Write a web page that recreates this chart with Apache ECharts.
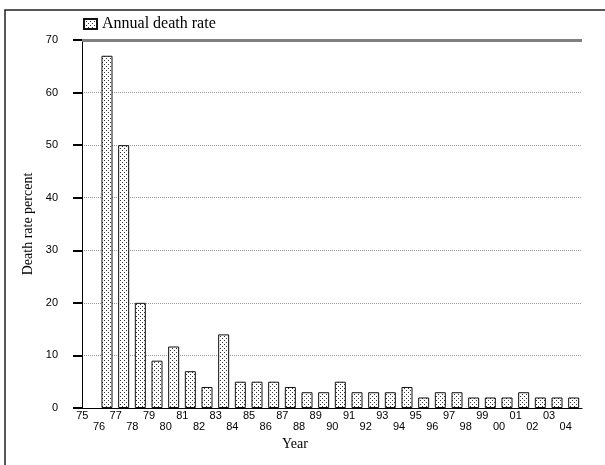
<!DOCTYPE html>
<html>
<head>
<meta charset="utf-8">
<script src="https://cdn.jsdelivr.net/npm/echarts@6/dist/echarts.min.js"></script>
<style>
  html, body { margin: 0; padding: 0; background: #fff; }
  #chart { width: 605px; height: 465px; }
</style>
</head>
<body>
<div id="chart"></div>
<script>
// years 1975 - 2004, labels as printed
var years = ['75', '76', '77', '78', '79', '80', '81', '82', '83', '84',
  '85', '86', '87', '88', '89', '90', '91', '92', '93', '94',
  '95', '96', '97', '98', '99', '00', '01', '02', '03', '04'];
var deathRate = [0, 67, 50, 20, 9, 11.7, 7, 4, 14, 5,
  5, 5, 4, 3, 3, 5, 3, 3, 3, 4,
  2, 3, 3, 2, 2, 2, 3, 2, 2, 2];
var yTicks = [0, 10, 20, 30, 40, 50, 60, 70];

// stipple fill like the old spreadsheet pattern
var pat = document.createElement('canvas');
pat.width = 4; pat.height = 4;
var pctx = pat.getContext('2d');
pctx.fillStyle = '#fff';
pctx.fillRect(0, 0, 4, 4);
pctx.fillStyle = '#333';
pctx.fillRect(0, 0, 1, 1);
pctx.fillRect(2, 2, 1, 1);

var serif = '"Liberation Serif", "Times New Roman", serif';
var sans = '"Liberation Sans", Arial, sans-serif';

var chart = echarts.init(document.getElementById('chart'));
chart.setOption({
  animation: false,
  backgroundColor: '#fff',
  graphic: [{
    type: 'rect',
    shape: {x: 5, y: 10, width: 620, height: 480},
    style: {fill: 'none', stroke: '#222', lineWidth: 1.5},
    silent: true
  }],
  legend: {
    left: 78, top: 11,
    icon: 'rect',
    itemWidth: 13, itemHeight: 10, itemGap: 10,
    textStyle: {fontFamily: serif, fontSize: 16, color: '#000'},
    data: ['Annual death rate']
  },
  grid: {left: 82, right: 23, top: 40, bottom: 57},
  xAxis: {
    type: 'category',
    data: years,
    name: 'Year',
    nameLocation: 'middle',
    nameGap: 26,
    nameTextStyle: {fontFamily: serif, fontSize: 14, color: '#000', padding: [0, 74, 0, 0]},
    axisLine: {lineStyle: {color: '#000', width: 1}},
    axisTick: {show: false},
    axisLabel: {
      interval: 0, margin: 2,
      fontFamily: sans, fontSize: 11, color: '#000', lineHeight: 11,
      padding: [0, 16, 0, 0],
      formatter: function (v, i) { return i % 2 ? '\n' + v : v; }
    }
  },
  yAxis: {
    type: 'value',
    min: yTicks[0], max: yTicks[yTicks.length - 1], interval: 10,
    name: 'Death rate percent',
    nameLocation: 'middle',
    nameGap: 47,
    nameTextStyle: {fontFamily: serif, fontSize: 14, color: '#000'},
    axisLine: {show: true, onZero: false, lineStyle: {color: '#000', width: 1}},
    axisTick: {show: true, inside: false, length: 9, lineStyle: {color: '#000', width: 2}},
    axisLabel: {margin: 24, fontFamily: sans, fontSize: 11, color: '#000'},
    splitLine: {lineStyle: {color: '#999', type: [1, 1], width: 1}}
  },
  series: [{
    name: 'Annual death rate',
    type: 'bar',
    // a zero year draws no bar at all in the source
    data: deathRate.map(function (v) { return v === 0 ? '-' : v; }),
    barWidth: 11,
    itemStyle: {
      color: {image: pat, repeat: 'repeat'},
      borderColor: '#111',
      borderWidth: 1
    },
    markLine: {
      silent: true,
      symbol: 'none',
      label: {show: false},
      lineStyle: {color: '#808080', type: 'solid', width: 3},
      data: [{yAxis: 70}]
    }
  }]
});
</script>
</body>
</html>
